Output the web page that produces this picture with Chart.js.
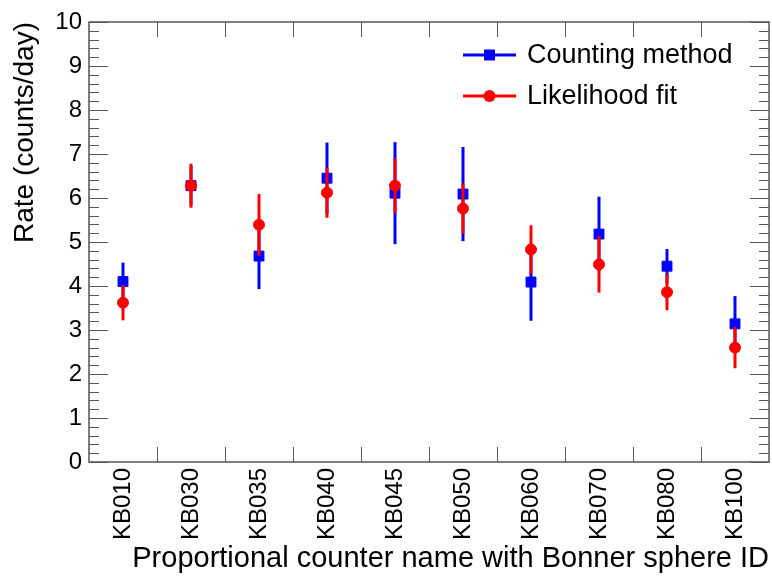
<!DOCTYPE html>
<html>
<head>
<meta charset="utf-8">
<script src="https://cdn.jsdelivr.net/npm/chart.js@4.4.1/dist/chart.umd.min.js"></script>
<style>
  body { margin: 0; background: #fff; }
  #wrap { width: 772px; height: 576px; }
</style>
</head>
<body>
<div id="wrap"><canvas id="rateChart"></canvas></div>
<script>
const detectors = ['KB010', 'KB030', 'KB035', 'KB040', 'KB045', 'KB050', 'KB060', 'KB070', 'KB080', 'KB100'];
const countRate = [4.10, 6.28, 4.68, 6.45, 6.11, 6.09, 4.09, 5.18, 4.45, 3.14];
const countErr  = [0.43, 0.45, 0.75, 0.81, 1.16, 1.07, 0.88, 0.85, 0.39, 0.63];
const fitRate   = [3.62, 6.28, 5.39, 6.12, 6.28, 5.76, 4.83, 4.49, 3.86, 2.60];
const fitErr    = [0.40, 0.50, 0.70, 0.57, 0.62, 0.57, 0.55, 0.64, 0.41, 0.47];
const yTicks    = [0, 1, 2, 3, 4, 5, 6, 7, 8, 9, 10];

const FONT = '"Liberation Sans", Arial, sans-serif';
const BLUE = '#0000ff';
const RED = '#ff0000';

// vertical error bars, drawn just before each dataset's markers
const errorBars = {
    id: 'errorBars',
    beforeDatasetDraw(chart, args) {
        const ds = chart.data.datasets[args.index];
        if (!ds.errors) return;
        const y = chart.scales.y;
        const ctx = chart.ctx;
        ctx.save();
        ctx.strokeStyle = ds.borderColor;
        ctx.lineWidth = 3;
        args.meta.data.forEach((pt, i) => {
            const v = ds.data[i], e = ds.errors[i];
            ctx.beginPath();
            ctx.moveTo(pt.x, y.getPixelForValue(v - e));
            ctx.lineTo(pt.x, y.getPixelForValue(v + e));
            ctx.stroke();
        });
        ctx.restore();
    }
};

// ROOT-style frame with inward ticks on all four sides
const frame = {
    id: 'frame',
    afterDatasetsDraw(chart) {
        const {ctx, chartArea: a, scales} = chart;
        ctx.save();
        ctx.strokeStyle = '#555';
        ctx.lineWidth = 1;
        for (let v = 0; v <= 10.001; v += 0.2) {
            const py = Math.round(scales.y.getPixelForValue(v)) + 0.5;
            const major = Math.abs(v - Math.round(v)) < 0.01;
            const len = major ? 19 : 10;
            ctx.beginPath();
            ctx.moveTo(a.left, py); ctx.lineTo(a.left + len, py);
            ctx.moveTo(a.right, py); ctx.lineTo(a.right - len, py);
            ctx.stroke();
        }
        const step = (a.right - a.left) / detectors.length;
        for (let i = 1; i < detectors.length; i++) {
            const px = Math.round(a.left + i * step) + 0.5;
            ctx.beginPath();
            ctx.moveTo(px, a.top); ctx.lineTo(px, a.top + 15);
            ctx.moveTo(px, a.bottom); ctx.lineTo(px, a.bottom - 15);
            ctx.stroke();
        }
        ctx.lineWidth = 1.5;
        ctx.strokeRect(a.left, a.top, a.right - a.left, a.bottom - a.top);
        ctx.restore();
    }
};

// legend with line-through markers
const rootLegend = {
    id: 'rootLegend',
    afterDraw(chart) {
        const ctx = chart.ctx;
        const rows = [
            {text: 'Counting method', color: BLUE, style: 'rect', y: 55},
            {text: 'Likelihood fit', color: RED, style: 'circle', y: 96}
        ];
        ctx.save();
        rows.forEach(r => {
            ctx.strokeStyle = r.color;
            ctx.fillStyle = r.color;
            ctx.lineWidth = 3;
            ctx.beginPath();
            ctx.moveTo(463, r.y); ctx.lineTo(516, r.y);
            ctx.stroke();
            if (r.style === 'rect') {
                ctx.fillRect(484, r.y - 5.5, 11, 11);
            } else {
                ctx.beginPath();
                ctx.arc(489.5, r.y, 6, 0, Math.PI * 2);
                ctx.fill();
            }
            ctx.fillStyle = '#000';
            ctx.font = '27px ' + FONT;
            ctx.textBaseline = 'middle';
            ctx.fillText(r.text, 527, r.y + 1);
        });
        ctx.restore();
    }
};

const ctx = document.getElementById('rateChart').getContext('2d');

const rateChart = new Chart(ctx, {
    type: 'line',
    data: {
        labels: detectors,
        datasets: [
            {
                label: 'Counting method',
                data: countRate,
                errors: countErr,
                showLine: false,
                borderColor: BLUE,
                backgroundColor: BLUE,
                pointStyle: 'rect',
                pointRadius: 7,
                pointBorderWidth: 1,
                order: 2,
            },
            {
                label: 'Likelihood fit',
                data: fitRate,
                errors: fitErr,
                showLine: false,
                borderColor: RED,
                backgroundColor: RED,
                pointStyle: 'circle',
                pointRadius: 5.5,
                pointBorderWidth: 1,
                order: 1,
            },
        ],
    },
    options: {
        responsive: true,
        maintainAspectRatio: false,
        animation: false,
        layout: {
            autoPadding: false,
            padding: {top: 22, right: 3, left: 0, bottom: 0},
        },
        scales: {
            x: {
                offset: true,
                grid: {display: false, drawTicks: false},
                border: {display: false},
                ticks: {
                    autoSkip: false,
                    minRotation: 90,
                    maxRotation: 90,
                    padding: 6,
                    color: '#000',
                    font: {family: FONT, size: 24},
                },
                title: {
                    display: true,
                    text: 'Proportional counter name with Bonner sphere ID',
                    align: 'end',
                    color: '#000',
                    font: {family: FONT, size: 29},
                    padding: {top: 0, bottom: 0},
                },
                afterFit(scale) {
                    scale.height = 114;
                    scale.paddingLeft = 0;
                    scale.paddingRight = 0;
                },
            },
            y: {
                min: 0,
                max: 10,
                afterBuildTicks(scale) { scale.ticks = yTicks.map(v => ({value: v})); },
                grid: {display: false, drawTicks: false},
                border: {display: false},
                ticks: {
                    padding: 7,
                    color: '#000',
                    font: {family: FONT, size: 24},
                },
                title: {
                    display: true,
                    text: 'Rate (counts/day)',
                    align: 'end',
                    color: '#000',
                    font: {family: FONT, size: 28},
                    padding: {top: 8, bottom: 0},
                },
                afterFit(scale) {
                    scale.width = 89;
                    scale.paddingTop = 0;
                    scale.paddingBottom = 0;
                },
            },
        },
        plugins: {
            legend: {display: false},
            tooltip: {enabled: false},
        },
    },
    plugins: [errorBars, frame, rootLegend],
});
</script>
</body>
</html>
